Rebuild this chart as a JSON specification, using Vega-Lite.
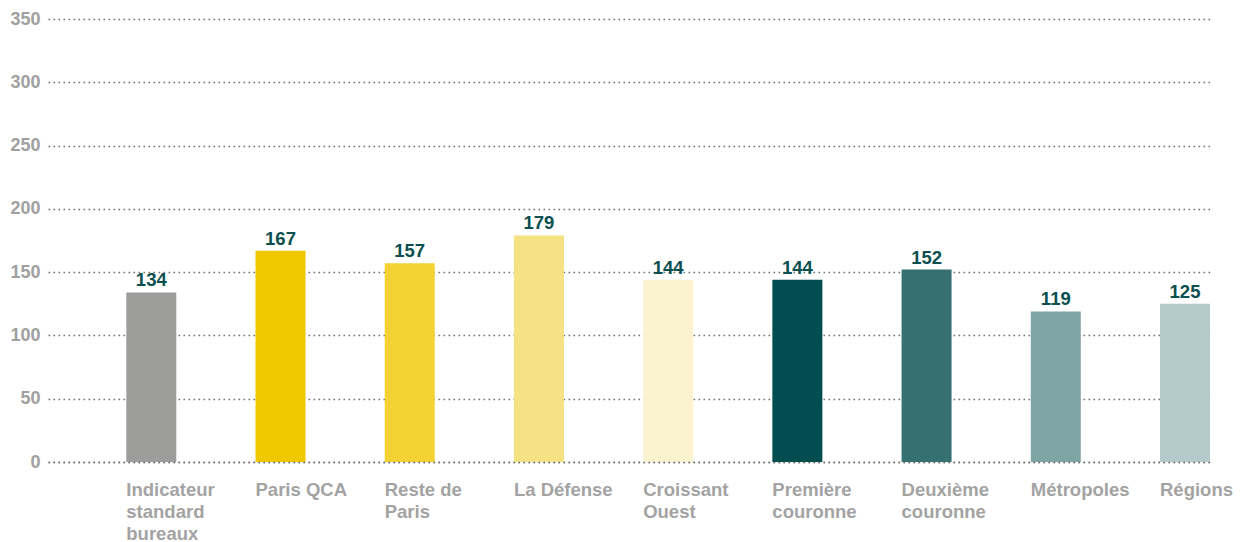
{
  "$schema": "https://vega.github.io/schema/vega-lite/v6.json",
  "width": 1162,
  "height": 443,
  "autosize": {"type": "none"},
  "padding": {"left": 48, "top": 19, "right": 32, "bottom": 80},
  "background": "white",
  "config": {
    "view": {"stroke": null},
    "font": "Liberation Sans"
  },
  "data": {
    "values": [
      {"cat": "Indicateur|standard|bureaux", "value": 134},
      {"cat": "Paris QCA", "value": 167},
      {"cat": "Reste de|Paris", "value": 157},
      {"cat": "La Défense", "value": 179},
      {"cat": "Croissant|Ouest", "value": 144},
      {"cat": "Première|couronne", "value": 144},
      {"cat": "Deuxième|couronne", "value": 152},
      {"cat": "Métropoles", "value": 119},
      {"cat": "Régions", "value": 125}
    ]
  },
  "encoding": {
    "x": {
      "field": "cat",
      "type": "nominal",
      "sort": null,
      "scale": {"paddingInner": 0.613, "paddingOuter": 0.303, "align": 1},
      "axis": {
        "title": null,
        "labelAngle": 0,
        "labelExpr": "split(datum.label, '|')",
        "labelAlign": "left",
        "labelBaseline": "top",
        "labelOffset": -25,
        "labelPadding": 18,
        "labelLineHeight": 22,
        "labelFont": "Liberation Sans",
        "labelFontSize": 18.5,
        "labelFontWeight": "bold",
        "labelColor": "#a3a3a3",
        "ticks": false,
        "domain": true,
        "domainColor": "#6e6e6e",
        "domainWidth": 1.6,
        "domainDash": [1.6, 3.4],
        "zindex": 1,
        "labelOverlap": false
      }
    },
    "y": {
      "field": "value",
      "type": "quantitative",
      "scale": {"domain": [0, 350], "nice": false},
      "axis": {
        "title": null,
        "values": [0, 50, 100, 150, 200, 250, 300, 350],
        "labelFont": "Liberation Sans",
        "labelFontSize": 18,
        "labelFontWeight": "bold",
        "labelColor": "#a0a0a0",
        "labelPadding": 8,
        "ticks": false,
        "domain": false,
        "grid": true,
        "gridColor": "#6e6e6e",
        "gridWidth": 1.6,
        "gridDash": [1.6, 3.4]
      }
    }
  },
  "layer": [
    {
      "mark": {"type": "bar"},
      "encoding": {
        "color": {
          "field": "cat",
          "type": "nominal",
          "legend": null,
          "scale": {
            "domain": ["Indicateur|standard|bureaux", "Paris QCA", "Reste de|Paris", "La Défense", "Croissant|Ouest", "Première|couronne", "Deuxième|couronne", "Métropoles", "Régions"],
            "range": ["#9d9d9b", "#f0c800", "#f3d231", "#f6e282", "#fbf3cf", "#024d4f", "#357171", "#80a5a6", "#b4c9ca"]
          }
        }
      }
    },
    {
      "mark": {"type": "text", "baseline": "bottom", "dy": -2, "fontSize": 18.5, "fontWeight": "bold", "font": "Liberation Sans", "color": "#0b4f50"},
      "encoding": {"text": {"field": "value", "type": "quantitative"}}
    }
  ]
}
